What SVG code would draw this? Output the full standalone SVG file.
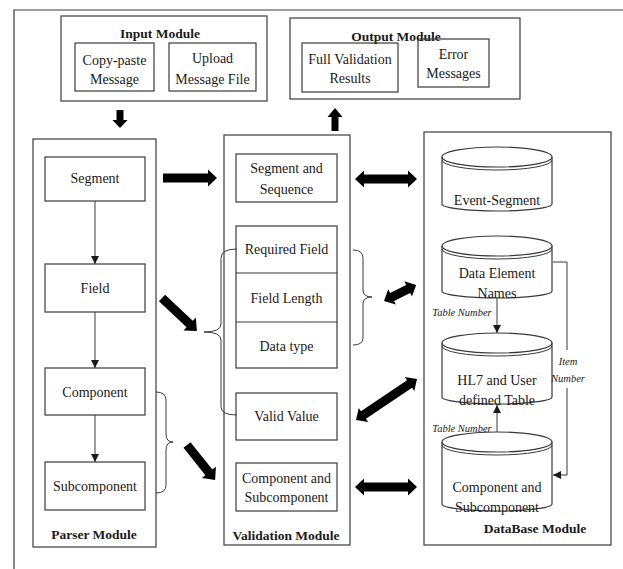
<svg xmlns="http://www.w3.org/2000/svg" width="623" height="569" viewBox="0 0 623 569">
<style>
.bx{fill:none;stroke:#3a3a3a;stroke-width:1.2}
.ln{fill:none;stroke:#3a3a3a;stroke-width:1}
.t{font-family:"Liberation Serif","Times New Roman",serif;font-size:14px;fill:#1a1a1a;text-anchor:middle}
.tb{font-family:"Liberation Serif","Times New Roman",serif;font-size:13.5px;font-weight:bold;fill:#1a1a1a;text-anchor:middle}
.ti{font-family:"Liberation Serif","Times New Roman",serif;font-size:10.5px;font-style:italic;fill:#1a1a1a;text-anchor:middle}
.ar{fill:#000}
</style>
<defs>
<marker id="tri" viewBox="0 0 10 10" refX="10" refY="5" markerWidth="8" markerHeight="8" markerUnits="userSpaceOnUse" orient="auto">
<path d="M0,0 L10,5 L0,10 z" fill="#1a1a1a"/>
</marker>
</defs>
<rect width="623" height="569" fill="#fff"/>
<path class="bx" d="M623,10 H14 V569"/>

<g id="input-module">
<rect class="bx" x="61" y="16" width="206" height="85"/>
<text class="tb" x="160" y="38">Input Module</text>
<g id="copy-paste"><rect class="bx" x="75" y="43" width="79" height="48"/>
<text class="t" x="114.5" y="65">Copy-paste</text><text class="t" x="114.5" y="84">Message</text></g>
<g id="upload"><rect class="bx" x="169" y="43" width="87" height="48"/>
<text class="t" x="212.5" y="63">Upload</text><text class="t" x="212.5" y="84">Message  File</text></g>
</g>

<g id="output-module">
<rect class="bx" x="290" y="18" width="230" height="81"/>
<text class="tb" x="396" y="41">Output Module</text>
<g id="full-validation"><rect class="bx" x="302" y="43" width="96" height="49"/>
<text class="t" x="350" y="64">Full Validation</text><text class="t" x="350" y="83">Results</text></g>
<g id="error-messages"><rect class="bx" x="418" y="39" width="71" height="48"/>
<text class="t" x="453.5" y="59">Error</text><text class="t" x="453.5" y="78">Messages</text></g>
</g>

<g id="parser-module">
<rect class="bx" x="33" y="139" width="123" height="408"/>
<g id="p-segment"><rect class="bx" x="45" y="157" width="100" height="44"/><text class="t" x="95" y="183">Segment</text></g>
<g id="p-field"><rect class="bx" x="45" y="264" width="100" height="48"/><text class="t" x="95" y="293">Field</text></g>
<g id="p-component"><rect class="bx" x="45" y="368" width="100" height="47"/><text class="t" x="95" y="397">Component</text></g>
<g id="p-subcomponent"><rect class="bx" x="45" y="462" width="100" height="48"/><text class="t" x="95" y="491">Subcomponent</text></g>
<text class="tb" x="94" y="539">Parser Module</text>
</g>

<g id="validation-module">
<rect class="bx" x="224" y="135" width="126" height="410"/>
<g id="v-segseq"><rect class="bx" x="236" y="154" width="101" height="48"/>
<text class="t" x="286.5" y="173">Segment and</text><text class="t" x="286.5" y="194">Sequence</text></g>
<g id="v-fieldchecks"><rect class="bx" x="236" y="226" width="101" height="142"/>
<path class="ln" d="M236,273 H337 M236,322 H337"/>
<text class="t" x="286.5" y="254">Required Field</text>
<text class="t" x="286.5" y="303">Field Length</text>
<text class="t" x="286.5" y="351">Data type</text></g>
<g id="v-validvalue"><rect class="bx" x="236" y="393" width="101" height="47"/><text class="t" x="286.5" y="421">Valid Value</text></g>
<g id="v-compsub"><rect class="bx" x="236" y="463" width="101" height="48"/>
<text class="t" x="286.5" y="483">Component and</text><text class="t" x="286.5" y="502">Subcomponent</text></g>
<text class="tb" x="286" y="540">Validation Module</text>
</g>

<g id="database-module">
<rect class="bx" x="424" y="132" width="187" height="413"/>
<g id="db-event">
<path class="bx" d="M442,157 V204 A55,7 0 0 0 552,204 V157"/>
<ellipse class="bx" cx="497" cy="157" rx="55" ry="10"/>
<path class="ln" d="M442,160 A55,10 0 0 0 552,160"/>
<text class="t" x="497" y="205">Event-Segment</text></g>
<g id="db-dataelement">
<path class="bx" d="M442,246 V291 A55,7 0 0 0 552,291 V246"/>
<ellipse class="bx" cx="497" cy="246" rx="55" ry="10"/>
<path class="ln" d="M442,249 A55,10 0 0 0 552,249"/>
<text class="t" x="497" y="278">Data Element</text><text class="t" x="497" y="298">Names</text></g>
<g id="db-hl7">
<path class="bx" d="M442,343 V397 A55,7 0 0 0 552,397 V343"/>
<ellipse class="bx" cx="497" cy="343" rx="55" ry="10"/>
<path class="ln" d="M442,346 A55,10 0 0 0 552,346"/>
<text class="t" x="497" y="385">HL7 and User</text><text class="t" x="497" y="405">defined Table</text></g>
<g id="db-compsub">
<path class="bx" d="M442,442 V504 A55,7 0 0 0 552,504 V442"/>
<ellipse class="bx" cx="497" cy="442" rx="55" ry="10"/>
<path class="ln" d="M442,445 A55,10 0 0 0 552,445"/>
<text class="t" x="497" y="492">Component and</text><text class="t" x="497" y="512">Subcomponent</text></g>
<text class="tb" x="535" y="533">DataBase Module</text>
</g>

<g id="connectors">
<!-- parser thin arrows -->
<path class="ln" marker-end="url(#tri)" d="M95,201 V264"/>
<path class="ln" marker-end="url(#tri)" d="M95,312 V368"/>
<path class="ln" marker-end="url(#tri)" d="M95,415 V462"/>
<!-- db thin arrows -->
<path class="ln" marker-end="url(#tri)" d="M497,298 V333"/>
<path class="ln" marker-end="url(#tri)" d="M497,432 V405"/>
<path class="ln" d="M553,262 H567 V350"/>
<path class="ln" marker-end="url(#tri)" d="M567,388 V475 H553"/>
<text class="ti" x="462" y="316">Table Number</text>
<text class="ti" x="462" y="432">Table Number</text>
<text class="ti" x="568" y="365">Item</text>
<text class="ti" x="568" y="382">Number</text>
<!-- braces -->
<path class="ln" d="M156,392 Q166,392 166,400 V434 Q166,442 173,442 Q166,442 166,450 V485 Q166,493 156,493"/>
<path class="ln" d="M237,249 Q221,249 221,258 V324 Q221,332 204,332 Q221,332 221,340 V407 Q221,415 237,415"/>
<path class="ln" d="M353,250 Q363,250 363,258 V290 Q363,297 372,297 Q363,297 363,304 V338 Q363,345 353,345"/>
<!-- thick arrows -->
<polygon class="ar" transform="translate(120,110) rotate(90)" points="0,-3.5 10,-3.5 10,-7.5 18,0 10,7.5 10,3.5 0,3.5"/>
<polygon class="ar" transform="translate(335,131) rotate(-90)" points="0,-3.5 14,-3.5 14,-7.5 23,0 14,7.5 14,3.5 0,3.5"/>
<polygon class="ar" transform="translate(163,178)" points="0,-4.5 45,-4.5 45,-8.5 54,0 45,8.5 45,4.5 0,4.5"/>
<polygon class="ar" transform="translate(162,298) rotate(43.3)" points="0,-4.5 38,-4.5 38,-9 48,0 38,9 38,4.5 0,4.5"/>
<polygon class="ar" transform="translate(187,445) rotate(51.3)" points="0,-4.5 35,-4.5 35,-9 45,0 35,9 35,4.5 0,4.5"/>
<polygon class="ar" transform="translate(355,179)" points="0,0 9,-8.5 9,-4.5 53,-4.5 53,-8.5 62,0 53,8.5 53,4.5 9,4.5 9,8.5"/>
<polygon class="ar" transform="translate(384,301) rotate(-26.6)" points="0,0 9,-8.5 9,-4.5 27,-4.5 27,-8.5 36,0 27,8.5 27,4.5 9,4.5 9,8.5"/>
<polygon class="ar" transform="translate(356,420) rotate(-33.9)" points="0,0 9,-8.5 9,-4.5 64.5,-4.5 64.5,-8.5 73.5,0 64.5,8.5 64.5,4.5 9,4.5 9,8.5"/>
<polygon class="ar" transform="translate(355,487)" points="0,0 9,-8.5 9,-4.5 53,-4.5 53,-8.5 62,0 53,8.5 53,4.5 9,4.5 9,8.5"/>
</g>
</svg>
